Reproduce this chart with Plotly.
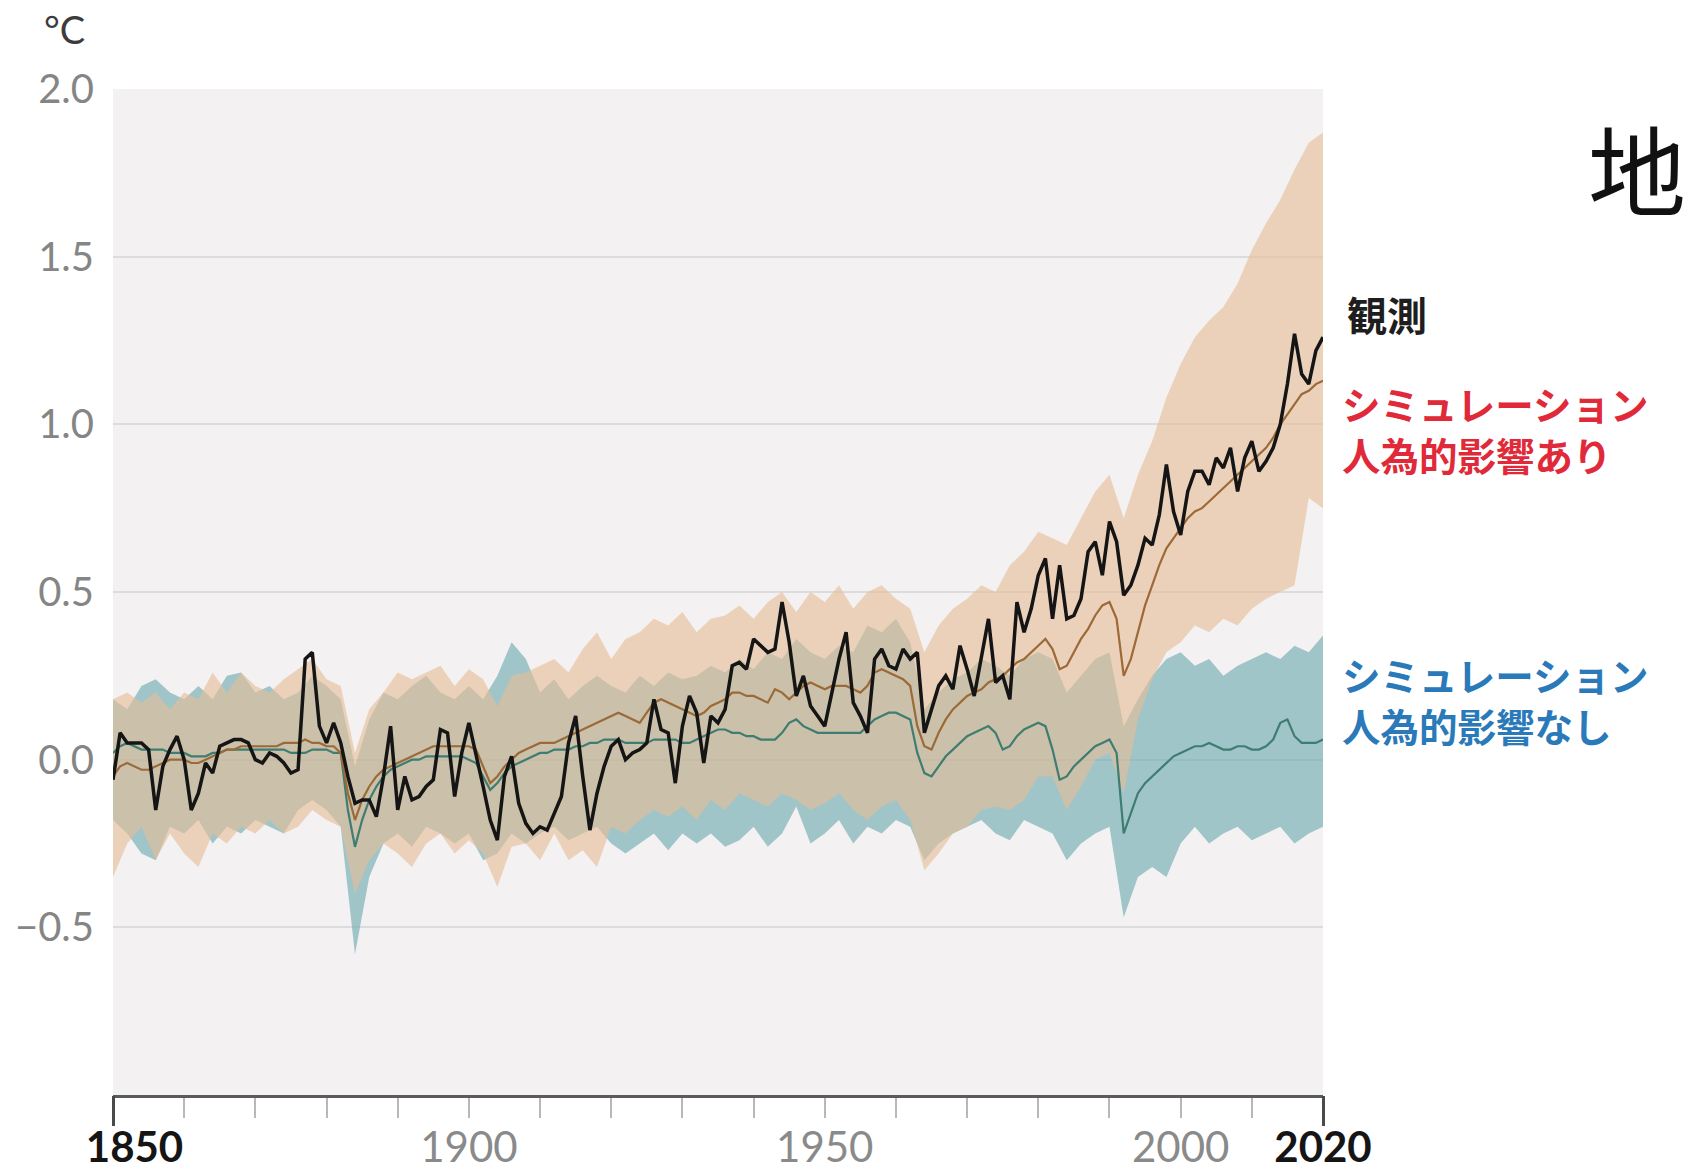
import plotly.graph_objects as go

# ---------------- data ----------------
years = list(range(1850, 2021))

observed = [
    -0.06, 0.08, 0.05, 0.05, 0.05, 0.03, -0.15, -0.02, 0.03, 0.07,
    0.00, -0.15, -0.10, -0.01, -0.04, 0.04, 0.05, 0.06, 0.06, 0.05,
    0.00, -0.01, 0.02, 0.01, -0.01, -0.04, -0.03, 0.30, 0.32, 0.10,
    0.05, 0.11, 0.05, -0.05, -0.13, -0.12, -0.12, -0.17, -0.05, 0.10,
    -0.15, -0.05, -0.12, -0.11, -0.08, -0.06, 0.09, 0.08, -0.11, 0.02,
    0.11, 0.02, -0.08, -0.18, -0.24, -0.05, 0.01, -0.13, -0.19, -0.22,
    -0.20, -0.21, -0.16, -0.11, 0.05, 0.13, -0.05, -0.21, -0.10, -0.02,
    0.04, 0.06, 0.00, 0.02, 0.03, 0.05, 0.18, 0.09, 0.08, -0.07,
    0.10, 0.19, 0.14, -0.01, 0.13, 0.11, 0.15, 0.28, 0.29, 0.27,
    0.36, 0.34, 0.32, 0.33, 0.47, 0.35, 0.19, 0.25, 0.16, 0.13,
    0.10, 0.20, 0.30, 0.38, 0.17, 0.13, 0.08, 0.30, 0.33, 0.28,
    0.27, 0.33, 0.30, 0.32, 0.08, 0.15, 0.22, 0.25, 0.21, 0.34,
    0.27, 0.19, 0.30, 0.42, 0.23, 0.25, 0.18, 0.47, 0.38, 0.45,
    0.55, 0.60, 0.42, 0.58, 0.42, 0.43, 0.48, 0.62, 0.65, 0.55,
    0.71, 0.65, 0.49, 0.52, 0.58, 0.66, 0.64, 0.73, 0.88, 0.74,
    0.67, 0.80, 0.86, 0.86, 0.82, 0.90, 0.87, 0.93, 0.80, 0.90,
    0.95, 0.86, 0.89, 0.93, 1.00, 1.12, 1.27, 1.15, 1.12, 1.22,
    1.26,
]

human_mean = [
    -0.05, -0.02, -0.01, -0.02, -0.03, -0.03, -0.02, -0.01, 0.00, 0.00,
    0.00, -0.01, -0.01, 0.00, 0.01, 0.02, 0.03, 0.03, 0.04, 0.04,
    0.04, 0.04, 0.04, 0.04, 0.05, 0.05, 0.05, 0.06, 0.05, 0.05,
    0.04, 0.04, 0.02, -0.10, -0.18, -0.12, -0.08, -0.05, -0.03, -0.02,
    -0.01, 0.00, 0.01, 0.02, 0.03, 0.04, 0.04, 0.04, 0.04, 0.04,
    0.04, 0.03, -0.02, -0.07, -0.05, -0.02, 0.00, 0.02, 0.03, 0.04,
    0.05, 0.05, 0.05, 0.06, 0.07, 0.08, 0.09, 0.10, 0.11, 0.12,
    0.13, 0.14, 0.13, 0.12, 0.11, 0.14, 0.17, 0.18, 0.17, 0.16,
    0.15, 0.14, 0.13, 0.14, 0.16, 0.17, 0.18, 0.20, 0.20, 0.19,
    0.19, 0.18, 0.17, 0.21, 0.20, 0.18, 0.20, 0.22, 0.23, 0.22,
    0.21, 0.22, 0.22, 0.22, 0.21, 0.20, 0.22, 0.26, 0.27, 0.26,
    0.25, 0.24, 0.22, 0.10, 0.04, 0.03, 0.08, 0.12, 0.15, 0.17,
    0.19, 0.20, 0.21, 0.23, 0.24, 0.25, 0.27, 0.29, 0.30, 0.32,
    0.34, 0.36, 0.33, 0.27, 0.28, 0.32, 0.36, 0.39, 0.43, 0.46,
    0.47, 0.42, 0.25, 0.30, 0.38, 0.46, 0.52, 0.58, 0.63, 0.66,
    0.69, 0.72, 0.74, 0.75, 0.77, 0.79, 0.81, 0.83, 0.85, 0.87,
    0.89, 0.91, 0.93, 0.96, 1.00, 1.03, 1.06, 1.09, 1.10, 1.12,
    1.13,
]

natural_mean = [
    0.02, 0.04, 0.05, 0.04, 0.03, 0.03, 0.03, 0.03, 0.02, 0.02,
    0.02, 0.01, 0.01, 0.01, 0.02, 0.02, 0.03, 0.03, 0.03, 0.03,
    0.03, 0.03, 0.03, 0.03, 0.03, 0.02, 0.02, 0.02, 0.03, 0.03,
    0.03, 0.02, 0.02, -0.15, -0.26, -0.18, -0.12, -0.08, -0.05, -0.03,
    -0.02, -0.01, 0.00, 0.00, 0.01, 0.01, 0.01, 0.01, 0.01, 0.01,
    0.00, -0.01, -0.05, -0.09, -0.07, -0.04, -0.02, -0.01, 0.00, 0.01,
    0.02, 0.02, 0.03, 0.03, 0.03, 0.04, 0.04, 0.05, 0.05, 0.06,
    0.06, 0.06, 0.05, 0.05, 0.05, 0.05, 0.06, 0.06, 0.06, 0.06,
    0.05, 0.05, 0.06, 0.07, 0.08, 0.09, 0.09, 0.08, 0.08, 0.07,
    0.07, 0.06, 0.06, 0.06, 0.08, 0.11, 0.12, 0.10, 0.09, 0.08,
    0.08, 0.08, 0.08, 0.08, 0.08, 0.08, 0.10, 0.12, 0.13, 0.14,
    0.14, 0.13, 0.12, 0.02, -0.04, -0.05, -0.02, 0.01, 0.03, 0.05,
    0.07, 0.08, 0.09, 0.10, 0.08, 0.03, 0.04, 0.07, 0.09, 0.10,
    0.11, 0.10, 0.03, -0.06, -0.05, -0.02, 0.00, 0.02, 0.04, 0.05,
    0.06, 0.02, -0.22, -0.16, -0.10, -0.07, -0.05, -0.03, -0.01, 0.01,
    0.02, 0.03, 0.04, 0.04, 0.05, 0.04, 0.03, 0.03, 0.04, 0.04,
    0.03, 0.03, 0.04, 0.06, 0.11, 0.12, 0.07, 0.05, 0.05, 0.05,
    0.06,
]

band_years = list(range(1850, 2021, 2))

human_hi = [
    0.18, 0.20, 0.17, 0.20, 0.15, 0.20, 0.18, 0.26, 0.20, 0.26,
    0.22, 0.20, 0.24, 0.27, 0.30, 0.24, 0.22, 0.02, 0.15, 0.20,
    0.26, 0.24, 0.26, 0.28, 0.22, 0.27, 0.24, 0.16, 0.25, 0.26,
    0.28, 0.30, 0.26, 0.33, 0.38, 0.30, 0.36, 0.38, 0.42, 0.40,
    0.44, 0.38, 0.42, 0.43, 0.46, 0.42, 0.47, 0.50, 0.44, 0.50,
    0.47, 0.52, 0.45, 0.50, 0.52, 0.48, 0.45, 0.32, 0.40, 0.45,
    0.48, 0.52, 0.50, 0.58, 0.62, 0.68, 0.66, 0.64, 0.72, 0.80,
    0.85, 0.72, 0.85, 0.95, 1.08, 1.18, 1.26, 1.31, 1.35, 1.42,
    1.52, 1.60, 1.67, 1.76, 1.84, 1.87,
]

human_lo = [
    -0.35, -0.25, -0.20, -0.30, -0.22, -0.28, -0.32, -0.22, -0.25, -0.20,
    -0.22, -0.18, -0.22, -0.20, -0.15, -0.18, -0.20, -0.40, -0.30, -0.25,
    -0.28, -0.32, -0.25, -0.22, -0.28, -0.24, -0.28, -0.38, -0.26, -0.25,
    -0.30, -0.22, -0.30, -0.27, -0.32, -0.20, -0.22, -0.18, -0.15, -0.17,
    -0.14, -0.18, -0.12, -0.15, -0.10, -0.12, -0.14, -0.10, -0.12, -0.15,
    -0.13, -0.10, -0.15, -0.18, -0.14, -0.12, -0.18, -0.33, -0.28, -0.22,
    -0.20, -0.15, -0.14, -0.15, -0.12, -0.05, -0.05, -0.15, -0.08, 0.00,
    0.02, -0.10, 0.12, 0.24, 0.32, 0.35, 0.40, 0.38, 0.42, 0.40,
    0.45, 0.48, 0.50, 0.52, 0.78, 0.75,
]

natural_hi = [
    0.18, 0.15, 0.22, 0.24, 0.20, 0.18, 0.22, 0.18, 0.25, 0.26,
    0.20, 0.22, 0.18, 0.20, 0.25, 0.22, 0.18, -0.02, 0.12, 0.20,
    0.18, 0.22, 0.25, 0.20, 0.18, 0.22, 0.18, 0.25, 0.35, 0.30,
    0.20, 0.24, 0.18, 0.22, 0.25, 0.22, 0.20, 0.25, 0.22, 0.26,
    0.24, 0.25, 0.28, 0.26, 0.30, 0.27, 0.32, 0.30, 0.36, 0.32,
    0.30, 0.34, 0.32, 0.40, 0.38, 0.42, 0.35, 0.15, 0.20, 0.24,
    0.26, 0.30, 0.28, 0.25, 0.30, 0.32, 0.30, 0.20, 0.25, 0.30,
    0.32, 0.10, 0.18, 0.25, 0.30, 0.32, 0.28, 0.30, 0.25, 0.28,
    0.30, 0.32, 0.30, 0.34, 0.32, 0.37,
]

natural_lo = [
    -0.18, -0.22, -0.28, -0.30, -0.20, -0.22, -0.18, -0.25, -0.20, -0.22,
    -0.18, -0.20, -0.22, -0.15, -0.12, -0.15, -0.20, -0.58, -0.35, -0.25,
    -0.22, -0.26, -0.20, -0.22, -0.25, -0.22, -0.30, -0.28, -0.22, -0.25,
    -0.22, -0.20, -0.24, -0.22, -0.20, -0.25, -0.28, -0.25, -0.22, -0.27,
    -0.22, -0.25, -0.22, -0.26, -0.24, -0.20, -0.26, -0.22, -0.14, -0.25,
    -0.22, -0.18, -0.25, -0.20, -0.22, -0.18, -0.20, -0.30, -0.25, -0.22,
    -0.20, -0.18, -0.22, -0.24, -0.18, -0.20, -0.22, -0.30, -0.25, -0.22,
    -0.20, -0.47, -0.35, -0.32, -0.35, -0.25, -0.20, -0.25, -0.22, -0.20,
    -0.24, -0.22, -0.20, -0.25, -0.22, -0.20,
]

y_ticks = [-0.5, 0.0, 0.5, 1.0, 1.5, 2.0]
y_tick_labels = ["\u22120.5", "0.0", "0.5", "1.0", "1.5", "2.0"]
x_ticks = [1850, 1900, 1950, 2000, 2020]
x_tick_labels = ["1850", "1900", "1950", "2000", "2020"]
x_bold_ticks = [1850, 2020]

label_obs = "観測"
label_hum = ["シミュレーション", "人為的影響あり"]
label_nat = ["シミュレーション", "人為的影響なし"]
unit_label = "°C"
cut_title = "地"

# ---------------- figure ----------------
TEAL_FILL = "rgba(108,170,176,0.62)"
TAN_FILL = "rgba(232,188,148,0.60)"

fig = go.Figure()

fig.add_trace(go.Scatter(x=band_years, y=natural_hi, mode="lines",
                         line=dict(width=0, color=TEAL_FILL),
                         hoverinfo="skip", showlegend=False))
fig.add_trace(go.Scatter(x=band_years, y=natural_lo, mode="lines",
                         line=dict(width=0, color=TEAL_FILL), fill="tonexty",
                         fillcolor=TEAL_FILL, hoverinfo="skip", showlegend=False))
fig.add_trace(go.Scatter(x=band_years, y=human_hi, mode="lines",
                         line=dict(width=0, color=TAN_FILL),
                         hoverinfo="skip", showlegend=False))
fig.add_trace(go.Scatter(x=band_years, y=human_lo, mode="lines",
                         line=dict(width=0, color=TAN_FILL), fill="tonexty",
                         fillcolor=TAN_FILL, hoverinfo="skip", showlegend=False))

fig.add_trace(go.Scatter(x=years, y=natural_mean, mode="lines",
                         line=dict(width=2.2, color="#3f7d72"), showlegend=False))
fig.add_trace(go.Scatter(x=years, y=human_mean, mode="lines",
                         line=dict(width=2.2, color="#9c6a38"), showlegend=False))
fig.add_trace(go.Scatter(x=years, y=observed, mode="lines",
                         line=dict(width=3.5, color="#151515"), showlegend=False))

# invisible trace so the overlay axis (big end ticks) is drawn
fig.add_trace(go.Scatter(x=x_bold_ticks, y=[None, None], xaxis="x2",
                         mode="lines", showlegend=False, hoverinfo="skip"))

NB = "\u00a0"
ticktext = []
for v, t in zip(x_ticks, x_tick_labels):
    if v == x_bold_ticks[0]:
        ticktext.append(NB * 4 + "<b><span style='color:#151515'>%s</span></b>" % t)
    elif v in x_bold_ticks:
        ticktext.append("<b><span style='color:#151515'>%s</span></b>" % t)
    else:
        ticktext.append(t)

fig.update_layout(
    width=1683, height=1171,
    margin=dict(l=113, r=360, t=89, b=76),
    paper_bgcolor="white",
    plot_bgcolor="#f3f1f2",
    font=dict(family="Lato, 'Noto Sans', sans-serif", size=40, color="#858585"),
    showlegend=False,
    xaxis=dict(
        range=[1850, 2020], tickvals=x_ticks, ticktext=ticktext,
        showgrid=False, zeroline=False,
        showline=True, linecolor="#5a5a5a", linewidth=3,
        ticks="outside", ticklen=20, tickwidth=2, tickcolor="#b8b8b8",
        minor=dict(dtick=10, tick0=1850, ticks="outside", ticklen=20,
                   tickwidth=2, tickcolor="#b8b8b8", showgrid=False),
        tickfont=dict(size=42, color="#8a8a8a"),
        ticklabelstandoff=-6,
        automargin=False, fixedrange=True,
    ),
    xaxis2=dict(
        overlaying="x", matches="x", anchor="y", side="bottom",
        range=[1850, 2020], tickvals=x_bold_ticks, showticklabels=False,
        ticks="outside", ticklen=30, tickwidth=3, tickcolor="#4a4a4a",
        showgrid=False, zeroline=False, showline=False, automargin=False,
    ),
    yaxis=dict(
        range=[-1.0, 2.0], tickvals=y_ticks, ticktext=y_tick_labels,
        showgrid=True, gridcolor="#dcdcdc", gridwidth=2,
        zeroline=False, showline=False, ticks="",
        tickfont=dict(size=40, color="#858585"),
        ticklabelstandoff=18,
        automargin=False, fixedrange=True,
    ),
)

def px_x(px):
    return (px - 113) / (1683 - 360 - 113)

def px_y(py):
    return (1171 - 76 - py) / (1171 - 76 - 89)

cjk = "'Noto Sans CJK JP', 'Noto Sans CJK SC', sans-serif"

fig.add_annotation(x=px_x(64), y=px_y(29), xref="paper", yref="paper",
                   text=unit_label, showarrow=False, xanchor="center", yanchor="middle",
                   font=dict(family="Lato, sans-serif", size=38, color="#3c3c3c"))

fig.add_annotation(x=px_x(1345), y=px_y(314), xref="paper", yref="paper",
                   text="<b>%s</b>" % label_obs, showarrow=False,
                   xanchor="left", yanchor="middle",
                   font=dict(family=cjk, size=40, color="#1e1e1e"))

for t, py in zip(label_hum, [403, 454]):
    fig.add_annotation(x=px_x(1340), y=px_y(py), xref="paper", yref="paper",
                       text="<b>%s</b>" % t, showarrow=False,
                       xanchor="left", yanchor="middle",
                       font=dict(family=cjk, size=38.5, color="#e02a3a"))

for t, py in zip(label_nat, [674, 725]):
    fig.add_annotation(x=px_x(1340), y=px_y(py), xref="paper", yref="paper",
                       text="<b>%s</b>" % t, showarrow=False,
                       xanchor="left", yanchor="middle",
                       font=dict(family=cjk, size=38.5, color="#2a79b9"))

fig.add_annotation(x=px_x(1586), y=px_y(166), xref="paper", yref="paper",
                   text=cut_title, showarrow=False, xanchor="left", yanchor="middle",
                   font=dict(family=cjk, size=98, color="#111111"))

fig.write_html("out.html", config={"displayModeBar": False},
               post_script="document.body.style.margin='0px';")
